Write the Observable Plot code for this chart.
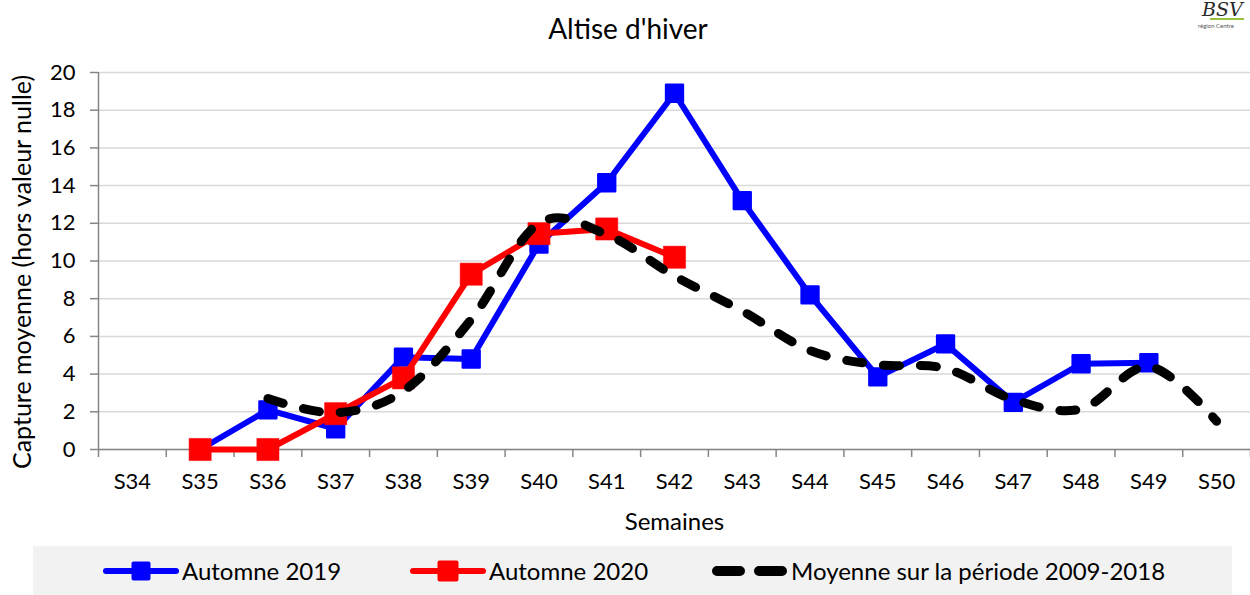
<!DOCTYPE html>
<html>
<head>
<meta charset="utf-8">
<script src="https://cdn.jsdelivr.net/npm/d3@7"></script>
<script src="https://cdn.jsdelivr.net/npm/@observablehq/plot@0.6"></script>
<style>
  html, body { margin: 0; padding: 0; background: #fff; }
  body { width: 1250px; height: 595px; position: relative; overflow: hidden; font-family: Lato, "Open Sans", sans-serif; color: #000; }
  #title { position: absolute; left: 0; top: 0; width: 1256px; height: 55px; line-height: 56px; text-align: center; font-size: 28px; }
  #chart { position: absolute; left: 0; top: 55px; }
  #legend { position: absolute; left: 33px; top: 546px; width: 1199px; height: 49px; background: #f2f2f2; }
  .item { position: absolute; top: 0; height: 49px; display: flex; align-items: center; font-size: 24px; }
  .item svg { display: block; margin-right: 3px; }
  #logo { position: absolute; left: 1196px; top: 0px; width: 54px; height: 32px; }
  #logo .b { position: absolute; left: 6px; top: 0px; font-size: 19px; line-height: 19px; font-style: italic; color: #2a2a2a; font-family: "DejaVu Serif", serif; }
  #logo .r { position: absolute; left: 2px; top: 22px; font-size: 6px; line-height: 7px; color: #555; font-family: Lato, sans-serif; white-space: nowrap; }
  #logo .g { position: absolute; left: 14px; top: 18px; width: 34px; height: 2px; background: #9bc23c; }
</style>
</head>
<body>
<div id="title">Altise d'hiver</div>
<div id="logo"><span class="b">BSV</span><div class="g"></div><span class="r">région Centre</span></div>
<div id="chart"></div>
<div id="legend"></div>
<script>
const weeks = ["S34","S35","S36","S37","S38","S39","S40","S41","S42","S43","S44","S45","S46","S47","S48","S49","S50"];
const autumn2019 = [null, 0, 2.1, 1.1, 4.9, 4.8, 10.9, 14.15, 18.9, 13.2, 8.2, 3.85, 5.6, 2.5, 4.55, 4.6, null];
const autumn2020 = [null, 0, 0, 1.9, 3.8, 9.3, 11.45, 11.7, 10.2, null, null, null, null, null, null, null, null];
const mean0918 = [null, null, 2.7, 1.95, 3.1, 6.9, 12.0, 11.4, 9.2, 7.35, 5.25, 4.5, 4.3, 2.65, 2.15, 4.4, 1.5];
const yTicks = [0, 2, 4, 6, 8, 10, 12, 14, 16, 18, 20];
const seriesNames = ["Automne 2019", "Automne 2020", "Moyenne sur la période 2009-2018"];
const yTitle = "Capture moyenne (hors valeur nulle)";
const xTitle = "Semaines";

const toRows = arr => arr.map((v, i) => ({i, v})).filter(d => d.v != null);
const s2019 = toRows(autumn2019);
const s2020 = toRows(autumn2020);
const sMean = toRows(mean0918);
const idx = weeks.map((w, i) => i);
const bounds = [-0.5, ...idx.map(i => i + 0.5)];

const chart = Plot.plot({
  width: 1250,
  height: 490,
  marginLeft: 98,
  marginRight: 0,
  marginTop: 17,
  marginBottom: 96,
  style: {fontFamily: "Lato, 'Open Sans', sans-serif", fontSize: "22px", color: "#000", background: "transparent", overflow: "visible"},
  x: {domain: [-0.5, weeks.length - 0.5]},
  y: {domain: [0, 20]},
  marks: [
    Plot.gridY(yTicks, {stroke: "#d9d9d9", strokeOpacity: 1, strokeWidth: 1.5}),
    Plot.axisY(yTicks, {tickSize: 8, tickPadding: 15, stroke: "#868686", strokeWidth: 1.5, label: null, fontSize: 22}),
    Plot.axisX(idx, {tickSize: 0, tickPadding: 24, tickFormat: i => weeks[i], label: null, fontSize: 22}),
    Plot.axisX(bounds, {tickSize: 8, tickFormat: () => "", stroke: "#868686", strokeWidth: 1.5, label: null}),
    Plot.ruleY([0], {stroke: "#868686", strokeWidth: 1.5}),
    Plot.ruleX([-0.5], {stroke: "#868686", strokeWidth: 1.5}),
    Plot.line(s2019, {x: "i", y: "v", stroke: "#0000ff", strokeWidth: 6, strokeLinejoin: "round"}),
    Plot.dot(s2019, {x: "i", y: "v", symbol: "square", r: 9.5, fill: "#0000ff", stroke: "#0000ff", strokeWidth: 2.5, strokeLinejoin: "round"}),
    Plot.line(s2020, {x: "i", y: "v", stroke: "#ff0000", strokeWidth: 6, strokeLinejoin: "round"}),
    Plot.dot(s2020, {x: "i", y: "v", symbol: "square", r: 12.5, fill: "#ff0000", stroke: "#ff0000", strokeWidth: 0.5}),
    Plot.line(sMean, {x: "i", y: "v", curve: "cardinal", tension: 0, stroke: "#000", strokeWidth: 9, strokeLinecap: "round", strokeDasharray: "16,21"}),
    Plot.text([xTitle], {frameAnchor: "bottom", dy: 73, fontSize: 24, lineAnchor: "middle", textAnchor: "middle"}),
    Plot.text([yTitle], {frameAnchor: "left", rotate: -90, dx: -76, dy: 11, fontSize: 25, lineAnchor: "middle", textAnchor: "middle"})
  ]
});
document.getElementById("chart").appendChild(chart);

// Legend
const legend = document.getElementById("legend");
const legendItems = [
  {name: seriesNames[0], left: 103 - 33, color: "#0000ff", type: "marker", size: 19},
  {name: seriesNames[1], left: 410 - 33, color: "#ff0000", type: "marker", size: 21},
  {name: seriesNames[2], left: 712 - 33, color: "#000", type: "dash"}
];
legendItems.forEach(it => {
  const div = document.createElement("div");
  div.className = "item";
  div.style.left = it.left + "px";
  const svg = d3.create("svg").attr("width", 76).attr("height", 24);
  if (it.type === "marker") {
    svg.append("line").attr("x1", 3).attr("x2", 73).attr("y1", 12).attr("y2", 12)
      .attr("stroke", it.color).attr("stroke-width", 6).attr("stroke-linecap", "round");
    svg.append("rect").attr("x", 38 - it.size / 2).attr("y", 12 - it.size / 2)
      .attr("width", it.size).attr("height", it.size).attr("rx", 2).attr("fill", it.color);
  } else {
    svg.append("line").attr("x1", 5).attr("x2", 71).attr("y1", 12).attr("y2", 12)
      .attr("stroke", it.color).attr("stroke-width", 10).attr("stroke-linecap", "round")
      .attr("stroke-dasharray", "23,19");
  }
  div.appendChild(svg.node());
  const span = document.createElement("span");
  span.textContent = it.name;
  div.appendChild(span);
  legend.appendChild(div);
});
</script>
</body>
</html>
